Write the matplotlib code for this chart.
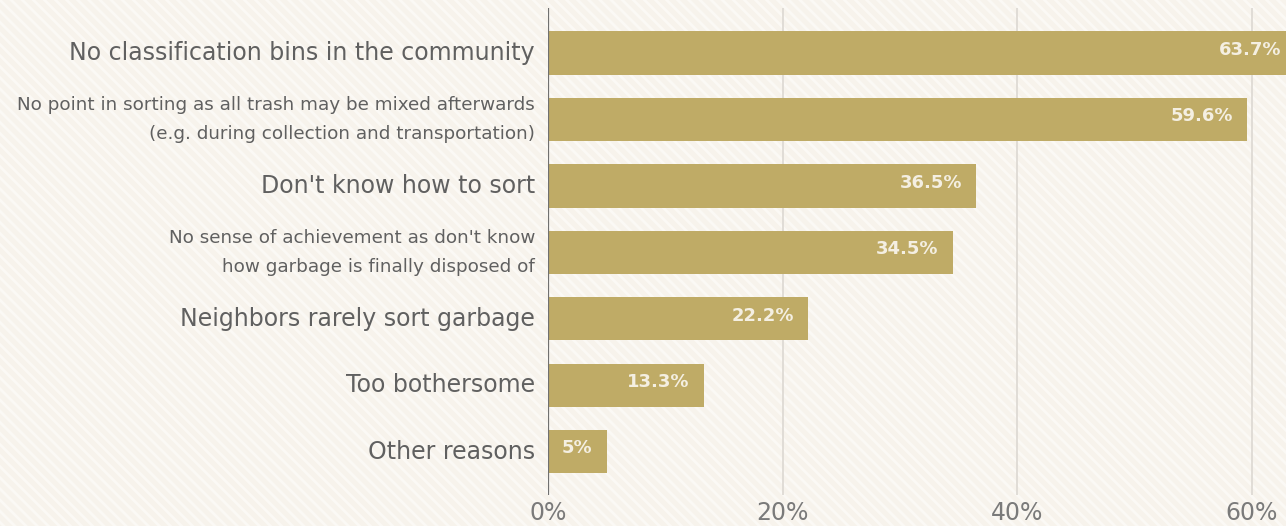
import matplotlib.pyplot as plt
from matplotlib.patches import Rectangle

# data
reasons = [
    'No classification bins in the community',
    'No point in sorting as all trash may be mixed afterwards\n(e.g. during collection and transportation)',
    "Don't know how to sort",
    "No sense of achievement as don't know\nhow garbage is finally disposed of",
    'Neighbors rarely sort garbage',
    'Too bothersome',
    'Other reasons',
]
shares = [63.7, 59.6, 36.5, 34.5, 22.2, 13.3, 5]
value_labels = ['63.7%', '59.6%', '36.5%', '34.5%', '22.2%', '13.3%', '5%']
small_label = [False, True, False, True, False, False, False]
x_ticks = [0, 20, 40, 60]
x_ticklabels = ['0%', '20%', '40%', '60%']

BG = '#f7f3ec'
BAR = '#bfab66'
TXT = '#606060'

plt.rcParams['hatch.linewidth'] = 2.0
fig = plt.figure(figsize=(12.86, 5.26), dpi=100, facecolor=BG)
fig.patches.append(Rectangle((0, 0), 1, 1, transform=fig.transFigure,
                             facecolor=BG, edgecolor='#fbf9f5', hatch='\\\\\\',
                             lw=0, zorder=-10))

ax = fig.add_axes([0.426, 0.059, 0.574, 0.926])
ax.patch.set_alpha(0)

ypos = list(range(len(reasons)))
ax.barh(ypos, shares, height=0.65, color=BAR, zorder=3)

ax.set_xlim(0, 62.9)
ax.set_ylim(6.65, -0.68)

for x in x_ticks[1:]:
    ax.axvline(x, color='#dcd8d2', lw=1.2, zorder=1)
ax.axvline(0, color='#707070', lw=1.6, zorder=4)

for s in ax.spines.values():
    s.set_visible(False)

ax.set_xticks(x_ticks)
ax.set_xticklabels(x_ticklabels, fontsize=17, color='#7a7a7a')
ax.tick_params(axis='x', length=0, pad=4)

ax.set_yticks(ypos)
ax.set_yticklabels([])
ax.tick_params(axis='y', length=0)

for y, label, small in zip(ypos, reasons, small_label):
    ax.text(-1.1, y, label, ha='right', va='center',
            fontsize=13.2 if small else 17, color=TXT,
            linespacing=1.75, clip_on=False)

for y, v, lab in zip(ypos, shares, value_labels):
    ax.text(v - 1.2, y - 0.05, lab, ha='right', va='center', fontsize=13,
            fontweight='bold', color='#f4efe2', zorder=5, clip_on=False)

plt.savefig('out.png', dpi=100, facecolor=BG)
plt.close()
